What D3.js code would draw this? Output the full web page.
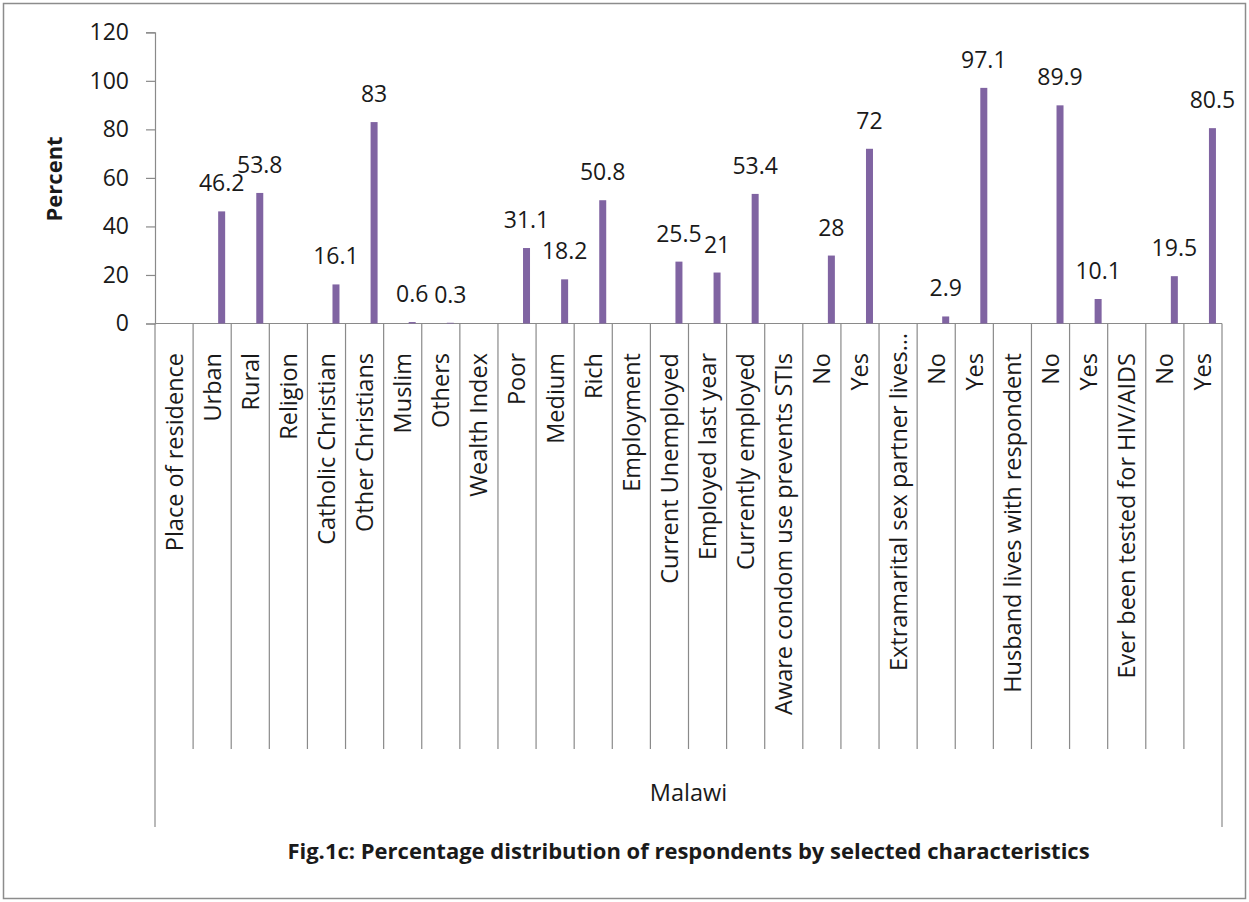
<!DOCTYPE html>
<html>
<head>
<meta charset="utf-8">
<script src="https://cdn.jsdelivr.net/npm/d3@7"></script>
<style>
  html, body { margin: 0; padding: 0; background: #fff; }
  svg { display: block; }
  text { font-family: "Open Sans", "Noto Sans", sans-serif; fill: #1a1a1a; }
</style>
</head>
<body>
<svg id="chart" width="1249" height="902"></svg>
<script>
// Category axis (lower level) – one entry per column
const categories = [
  "Place of residence", "Urban", "Rural",
  "Religion", "Catholic Christian", "Other Christians", "Muslim", "Others",
  "Wealth Index", "Poor", "Medium", "Rich",
  "Employment", "Current Unemployed", "Employed last year", "Currently employed",
  "Aware condom use prevents STIs", "No", "Yes",
  "Extramarital sex partner lives…", "No", "Yes",
  "Husband lives with respondent", "No", "Yes",
  "Ever been tested for HIV/AIDS", "No", "Yes"
];

// Percent of respondents (null = heading row, no bar)
const percents = [
  null, 46.2, 53.8,
  null, 16.1, 83, 0.6, 0.3,
  null, 31.1, 18.2, 50.8,
  null, 25.5, 21, 53.4,
  null, 28, 72,
  null, 2.9, 97.1,
  null, 89.9, 10.1,
  null, 19.5, 80.5
];

// Upper category level and axis ticks
const groupLabel = "Malawi";
const yTicks = [0, 20, 40, 60, 80, 100, 120];
const yTitle = "Percent";
const caption = "Fig.1c: Percentage distribution of respondents by selected characteristics";

const svg = d3.select("#chart");
const W = 1249, H = 902;
const plot = { left: 155, right: 1222, top: 32.3, bottom: 323.5 };
const axisColor = "#8a8a8a";
const barColor = "#8064A2";

// outer chart frame
svg.append("rect")
  .attr("x", 3.5).attr("y", 3.5)
  .attr("width", W - 7).attr("height", H - 7)
  .attr("fill", "#fff").attr("stroke", "#8c8c8c").attr("stroke-width", 1.5);

const x = d3.scaleBand()
  .domain(d3.range(categories.length))
  .range([plot.left, plot.right])
  .paddingInner(0).paddingOuter(0);

const y = d3.scaleLinear().domain([0, 120]).range([plot.bottom, plot.top]);

// Y axis
const yAxis = svg.append("g")
  .attr("transform", `translate(${plot.left},0)`)
  .call(d3.axisLeft(y).tickValues(yTicks).tickSize(9).tickPadding(17).tickFormat(d3.format("d")));
yAxis.select(".domain").attr("stroke", axisColor).attr("stroke-width", 1.2);
yAxis.selectAll(".tick line").attr("stroke", axisColor).attr("stroke-width", 1.2);
yAxis.selectAll(".tick text")
  .attr("font-size", 23)
  .attr("font-family", "'Open Sans', sans-serif")
  .attr("fill", "#1a1a1a");

// Y axis title
svg.append("text")
  .attr("transform", `translate(62,${(plot.top + plot.bottom) / 2 + 1}) rotate(-90)`)
  .attr("text-anchor", "middle")
  .attr("font-size", 22)
  .attr("font-weight", "bold")
  .text(yTitle);

// Category axis: baseline, separators and labels
const sepBottom = 749, outerBottom = 827;
svg.append("line")
  .attr("x1", plot.left).attr("x2", plot.right)
  .attr("y1", plot.bottom).attr("y2", plot.bottom)
  .attr("stroke", axisColor).attr("stroke-width", 1.2);

const bounds = d3.range(categories.length + 1).map(i =>
  i < categories.length ? x(i) : x(categories.length - 1) + x.bandwidth());
svg.append("g").selectAll("line")
  .data(bounds)
  .join("line")
  .attr("x1", d => d).attr("x2", d => d)
  .attr("y1", plot.bottom)
  .attr("y2", (d, i) => (i === 0 || i === bounds.length - 1) ? outerBottom : sepBottom)
  .attr("stroke", axisColor).attr("stroke-width", 1.2);

svg.append("g").selectAll("text")
  .data(categories)
  .join("text")
  .attr("transform", (d, i) => {
    const top = d.endsWith("…") ? 333 : 353;
    return `translate(${x(i) + x.bandwidth() / 2},${top}) rotate(-90)`;
  })
  .attr("text-anchor", "end")
  .attr("dy", "0.36em")
  .attr("font-size", 23.5)
  .text(d => d);

// Upper category level
svg.append("text")
  .attr("x", (plot.left + plot.right) / 2)
  .attr("y", 793)
  .attr("dy", "0.36em")
  .attr("text-anchor", "middle")
  .attr("font-size", 23.5)
  .text(groupLabel);

// Bars
const barW = 7, barShift = 9.5;
const bars = percents.map((v, i) => ({ i, v })).filter(d => d.v !== null);
svg.append("g").selectAll("rect")
  .data(bars)
  .join("rect")
  .attr("x", d => x(d.i) + x.bandwidth() / 2 + barShift - barW / 2)
  .attr("width", barW)
  .attr("y", d => y(d.v))
  .attr("height", d => y(0) - y(d.v))
  .attr("fill", barColor);

// Value labels
svg.append("g").selectAll("text")
  .data(bars)
  .join("text")
  .attr("x", d => x(d.i) + x.bandwidth() / 2 + barShift)
  .attr("y", d => y(d.v) - 20)
  .attr("text-anchor", "middle")
  .attr("font-size", 23)
  .text(d => d3.format("")(d.v));

// Caption
svg.append("text")
  .attr("x", (plot.left + plot.right) / 2)
  .attr("y", 859)
  .attr("text-anchor", "middle")
  .attr("font-size", 22)
  .attr("font-weight", "bold")
  .text(caption);
</script>
</body>
</html>
